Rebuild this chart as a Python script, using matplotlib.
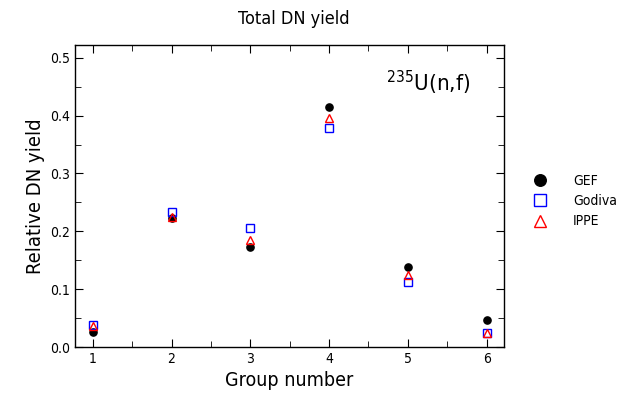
import matplotlib
matplotlib.use('Agg')
import matplotlib.pyplot as plt
from matplotlib.ticker import MultipleLocator, FormatStrFormatter

groups = [1, 2, 3, 4, 5, 6]
gef = [0.026, 0.223, 0.173, 0.415, 0.138, 0.046]
godiva = [0.038, 0.234, 0.206, 0.379, 0.113, 0.024]
ippe = [0.036, 0.225, 0.185, 0.396, 0.125, 0.024]

plt.rcParams['font.family'] = ['DejaVu Sans']
plt.rcParams['font.stretch'] = 'condensed'

fig = plt.figure(figsize=(6.23, 3.99), dpi=100)
ax = fig.add_axes([0.1204, 0.1303, 0.6886, 0.7567])

ax.plot(groups, gef, 'o', color='black', ms=5.2, label='GEF')
ax.plot(groups, godiva, 's', mfc='none', mec='blue', ms=5.2, mew=1.0, label='Godiva')
ax.plot(groups, ippe, '^', mfc='none', mec='red', ms=5.5, mew=1.0, label='IPPE')

ax.set_xlim(0.775, 6.22)
ax.set_ylim(0, 0.522)
ax.xaxis.set_major_locator(MultipleLocator(1))
ax.xaxis.set_minor_locator(MultipleLocator(0.5))
ax.yaxis.set_major_locator(MultipleLocator(0.1))
ax.yaxis.set_minor_locator(MultipleLocator(0.05))
ax.yaxis.set_major_formatter(FormatStrFormatter('%.1f'))
ax.tick_params(which='both', direction='in', top=True, right=True, labelsize=10)
ax.tick_params(which='major', length=6)
ax.tick_params(which='minor', length=4)
for s in ax.spines.values():
    s.set_linewidth(1.0)

ax.set_xlabel('Group number', fontsize=14)
ax.set_ylabel('Relative DN yield', fontsize=14.5)
fig.text(0.472, 0.952, 'Total DN yield', ha='center', va='center', fontsize=13)
ax.text(0.922, 0.875, r'$^{235}$U(n,f)', transform=ax.transAxes, ha='right', va='center', fontsize=16)

ax.legend(loc='center left', bbox_to_anchor=(1.022, 0.483), frameon=False, fontsize=10,
          handletextpad=1.4, labelspacing=0.45, markerscale=1.6)

fig.savefig('out.png', dpi=100)
